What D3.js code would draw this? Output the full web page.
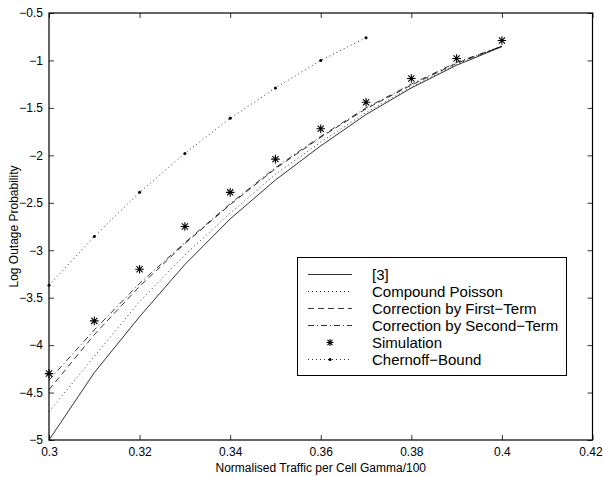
<!DOCTYPE html>
<html>
<head>
<meta charset="utf-8">
<script src="https://cdn.jsdelivr.net/npm/d3@7"></script>
<style>
  body { margin: 0; background: #fff; }
  text { font-family: "Liberation Sans", Arial, Helvetica, sans-serif; fill: #000; }
</style>
</head>
<body>
<svg id="chart" width="603" height="477"></svg>
<script>
// x values (normalised traffic per cell)
var traffic = [0.30, 0.31, 0.32, 0.33, 0.34, 0.35, 0.36, 0.37, 0.38, 0.39, 0.40];
// log outage probability per curve
var ref3 = [-5.00, -4.29, -3.70, -3.15, -2.67, -2.26, -1.90, -1.57, -1.29, -1.05, -0.855];
var compoundPoisson = [-4.70, -4.12, -3.54, -3.05, -2.61, -2.20, -1.86, -1.55, -1.28, -1.04, -0.85];
var firstTerm = [-4.47, -3.89, -3.38, -2.93, -2.52, -2.14, -1.81, -1.51, -1.26, -1.03, -0.85];
var secondTerm = [-4.37, -3.84, -3.35, -2.92, -2.51, -2.13, -1.80, -1.50, -1.25, -1.02, -0.85];
var simulation = [-4.30, -3.745, -3.20, -2.75, -2.39, -2.04, -1.72, -1.44, -1.19, -0.98, -0.79];
var chernoffX = [0.30, 0.31, 0.32, 0.33, 0.34, 0.35, 0.36, 0.37];
var chernoff = [-3.37, -2.855, -2.39, -1.98, -1.61, -1.29, -1.00, -0.76];

var xTicks = [0.3, 0.32, 0.34, 0.36, 0.38, 0.4, 0.42];
var yTicks = [-0.5, -1, -1.5, -2, -2.5, -3, -3.5, -4, -4.5, -5];
var legendLabels = ["[3]", "Compound Poisson", "Correction by First\u2212Term",
  "Correction by Second\u2212Term", "Simulation", "Chernoff\u2212Bound"];

var svg = d3.select("#chart");
var plotL = 49, plotR = 592.5, plotT = 13, plotB = 440;

var x = d3.scaleLinear().domain([0.3, 0.42]).range([plotL, plotR]);
var y = d3.scaleLinear().domain([-5, -0.5]).range([plotB, plotT]);

var fmt = function(d) { return String(d).replace("-", "\u2212"); };

// axes, matlab style: ticks inward on all four sides
var tick = 5;
var gx = svg.append("g").attr("transform", "translate(0," + plotB + ")")
  .call(d3.axisBottom(x).tickValues(xTicks).tickSizeInner(-tick).tickSizeOuter(0).tickPadding(7).tickFormat(fmt));
var gxt = svg.append("g").attr("transform", "translate(0," + plotT + ")")
  .call(d3.axisTop(x).tickValues(xTicks).tickSizeInner(-tick).tickSizeOuter(0).tickFormat(""));
var gy = svg.append("g").attr("transform", "translate(" + plotL + ",0)")
  .call(d3.axisLeft(y).tickValues(yTicks).tickSizeInner(-tick).tickSizeOuter(0).tickPadding(6).tickFormat(fmt));
var gyr = svg.append("g").attr("transform", "translate(" + plotR + ",0)")
  .call(d3.axisRight(y).tickValues(yTicks).tickSizeInner(-tick).tickSizeOuter(0).tickFormat(""));

[gx, gxt, gy, gyr].forEach(function(g) {
  g.select(".domain").remove();
  g.selectAll("line").attr("stroke", "#000").attr("stroke-width", 0.8);
  g.selectAll("text").style("font-size", "12px").attr("fill", "#000");
});
// last x label sits against the page edge
gx.selectAll("text").filter(function(d) { return d === 0.42; }).attr("dx", -2);

svg.append("rect")
  .attr("x", plotL).attr("y", plotT)
  .attr("width", plotR - plotL).attr("height", plotB - plotT)
  .attr("fill", "none").attr("stroke", "#000").attr("stroke-width", 1.2);

// axis titles
svg.append("text")
  .attr("x", (plotL + plotR) / 2).attr("y", 472)
  .attr("text-anchor", "middle").style("font-size", "12px")
  .text("Normalised Traffic per Cell Gamma/100");
svg.append("text")
  .attr("transform", "translate(18," + (plotT + plotB) / 2 + ") rotate(-90)")
  .attr("text-anchor", "middle").style("font-size", "12px")
  .text("Log Outage Probability");

var line = d3.line()
  .x(function(d) { return x(d[0]); })
  .y(function(d) { return y(d[1]); });

var styles = [
  { data: ref3, dash: null },
  { data: compoundPoisson, dash: "1,3" },
  { data: firstTerm, dash: "6,4" },
  { data: secondTerm, dash: "6,3,1,3" }
];

styles.forEach(function(s) {
  svg.append("path")
    .datum(d3.zip(traffic, s.data))
    .attr("d", line)
    .attr("fill", "none")
    .attr("stroke", "#000")
    .attr("stroke-width", 0.8)
    .attr("stroke-dasharray", s.dash);
});

// chernoff bound: dotted line with point markers
svg.append("path")
  .datum(d3.zip(chernoffX, chernoff))
  .attr("d", line)
  .attr("fill", "none")
  .attr("stroke", "#000")
  .attr("stroke-width", 0.8)
  .attr("stroke-dasharray", "1,3");
svg.selectAll("circle.cb")
  .data(d3.zip(chernoffX, chernoff))
  .enter().append("circle")
  .attr("class", "cb")
  .attr("cx", function(d) { return x(d[0]); })
  .attr("cy", function(d) { return y(d[1]); })
  .attr("r", 1.5)
  .attr("fill", "#000");

// asterisk marker (plus + cross)
function star(r) {
  var a = r * 0.72;
  return "M" + (-r) + ",0L" + r + ",0M0," + (-r) + "L0," + r +
    "M" + (-a) + "," + (-a) + "L" + a + "," + a +
    "M" + (-a) + "," + a + "L" + a + "," + (-a);
}
svg.selectAll("path.sim")
  .data(d3.zip(traffic, simulation))
  .enter().append("path")
  .attr("class", "sim")
  .attr("transform", function(d) { return "translate(" + x(d[0]) + "," + y(d[1]) + ")"; })
  .attr("d", star(4.3))
  .attr("stroke", "#000")
  .attr("stroke-width", 1.1)
  .attr("fill", "none");

// legend
var lg = svg.append("g");
lg.append("rect")
  .attr("x", 297.5).attr("y", 257.5).attr("width", 269).attr("height", 118)
  .attr("fill", "#fff").attr("stroke", "#000").attr("stroke-width", 1);

var rowY = function(i) { return 274.5 + i * 17; };
var sampleDash = [null, "1,3", "6,4", "6,3,1,3", null, "1,3"];
legendLabels.forEach(function(lbl, i) {
  var yy = rowY(i);
  if (i !== 4) {
    lg.append("line")
      .attr("x1", 308).attr("x2", 352).attr("y1", yy).attr("y2", yy)
      .attr("stroke", "#000").attr("stroke-width", 0.8)
      .attr("stroke-dasharray", sampleDash[i]);
  }
  if (i === 4) {
    lg.append("path").attr("transform", "translate(330," + yy + ")")
      .attr("d", star(3.5)).attr("stroke", "#000").attr("stroke-width", 1.1).attr("fill", "none");
  }
  if (i === 5) {
    lg.append("circle").attr("cx", 330).attr("cy", yy).attr("r", 1.5).attr("fill", "#000");
  }
  lg.append("text")
    .attr("x", 372).attr("y", yy + 5)
    .style("font-size", "15px")
    .text(lbl);
});
</script>
</body>
</html>
